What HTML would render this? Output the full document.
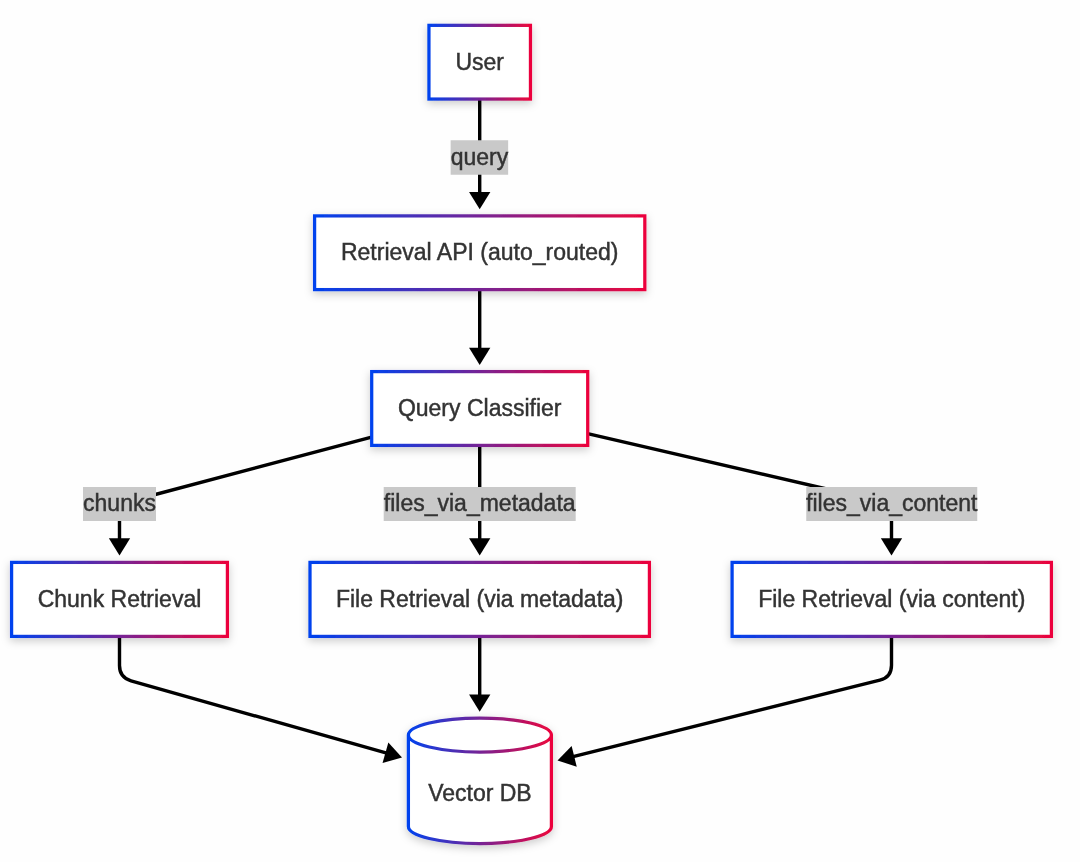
<!DOCTYPE html>
<html><head><meta charset="utf-8"><title>Retrieval flow</title>
<style>html,body{margin:0;padding:0;background:#fefefe;}svg{display:block;will-change:transform}text{font-family:"Liberation Sans",sans-serif;font-size:23px;fill:#333;stroke:#333;stroke-width:0.45px;text-anchor:middle}</style></head><body>
<svg width="1080" height="862" viewBox="0 0 1080 862">
<defs>
<filter id="sh" x="-30%" y="-40%" width="160%" height="190%"><feDropShadow dx="0" dy="3" stdDeviation="4" flood-color="#000" flood-opacity="0.2"/></filter>
<linearGradient id="g_user" gradientUnits="userSpaceOnUse" x1="428.95" y1="0" x2="530.45" y2="0"><stop offset="0" stop-color="#0042ee"/><stop offset="1" stop-color="#ec053c"/></linearGradient>
<linearGradient id="g_api" gradientUnits="userSpaceOnUse" x1="314.60" y1="0" x2="644.80" y2="0"><stop offset="0" stop-color="#0042ee"/><stop offset="1" stop-color="#ec053c"/></linearGradient>
<linearGradient id="g_qc" gradientUnits="userSpaceOnUse" x1="371.70" y1="0" x2="587.70" y2="0"><stop offset="0" stop-color="#0042ee"/><stop offset="1" stop-color="#ec053c"/></linearGradient>
<linearGradient id="g_chunk" gradientUnits="userSpaceOnUse" x1="11.60" y1="0" x2="227.40" y2="0"><stop offset="0" stop-color="#0042ee"/><stop offset="1" stop-color="#ec053c"/></linearGradient>
<linearGradient id="g_meta" gradientUnits="userSpaceOnUse" x1="310.00" y1="0" x2="649.40" y2="0"><stop offset="0" stop-color="#0042ee"/><stop offset="1" stop-color="#ec053c"/></linearGradient>
<linearGradient id="g_cont" gradientUnits="userSpaceOnUse" x1="732.10" y1="0" x2="1051.40" y2="0"><stop offset="0" stop-color="#0042ee"/><stop offset="1" stop-color="#ec053c"/></linearGradient>
<linearGradient id="g_db" gradientUnits="userSpaceOnUse" x1="408.40" y1="0" x2="551.40" y2="0"><stop offset="0" stop-color="#0042ee"/><stop offset="1" stop-color="#ec053c"/></linearGradient>
</defs>
<rect width="1080" height="862" fill="#fefefe"/>
<path d="M479.7,99 L479.7,195" fill="none" stroke="#000" stroke-width="3.40" stroke-linejoin="round"/>
<polygon points="479.70,209.25 469.05,192.05 490.35,192.05" fill="#000"/>
<path d="M479.7,290 L479.7,350" fill="none" stroke="#000" stroke-width="3.40" stroke-linejoin="round"/>
<polygon points="479.70,365.00 469.05,347.80 490.35,347.80" fill="#000"/>
<path d="M371.6,437.15 L119.5,504 L119.5,541" fill="none" stroke="#000" stroke-width="3.40" stroke-linejoin="round"/>
<polygon points="119.50,555.50 108.85,538.30 130.15,538.30" fill="#000"/>
<path d="M479.7,446 L479.7,541" fill="none" stroke="#000" stroke-width="3.40" stroke-linejoin="round"/>
<polygon points="479.70,555.50 469.05,538.30 490.35,538.30" fill="#000"/>
<path d="M587.6,433.55 L891.5,504 L891.5,541" fill="none" stroke="#000" stroke-width="3.40" stroke-linejoin="round"/>
<polygon points="891.50,555.50 880.85,538.30 902.15,538.30" fill="#000"/>
<path d="M119.50,636.00 L119.50,665.50 Q119.50,677.50 131.05,680.77 L388.53,753.69" fill="none" stroke="#000" stroke-width="3.40" stroke-linejoin="round"/>
<polygon points="402.00,757.50 382.55,763.06 388.35,742.57" fill="#000"/>
<path d="M479.7,636 L479.7,697" fill="none" stroke="#000" stroke-width="3.40" stroke-linejoin="round"/>
<polygon points="479.70,711.75 469.05,694.55 490.35,694.55" fill="#000"/>
<path d="M891.50,636.00 L891.50,665.30 Q891.50,677.30 879.86,680.20 L571.08,757.12" fill="none" stroke="#000" stroke-width="3.40" stroke-linejoin="round"/>
<polygon points="557.50,760.50 571.62,746.01 576.76,766.68" fill="#000"/>
<rect x="450.65" y="140.25" width="57.50" height="34.50" fill="#c9c9c9"/>
<text x="479.40" y="164.90">query</text>
<rect x="83.00" y="487.00" width="73.00" height="34.00" fill="#c9c9c9"/>
<text x="119.50" y="511.40">chunks</text>
<rect x="383.70" y="487.00" width="192.00" height="34.00" fill="#c9c9c9"/>
<text x="479.70" y="511.40">files_via_metadata</text>
<rect x="806.25" y="487.00" width="171.00" height="34.00" fill="#c9c9c9"/>
<text x="891.75" y="511.40">files_via_content</text>
<rect x="428.95" y="25.35" width="101.50" height="73.70" fill="#fff" stroke="url(#g_user)" stroke-width="3.25" filter="url(#sh)"/>
<text x="479.70" y="69.60">User</text>
<rect x="314.60" y="215.90" width="330.20" height="73.70" fill="#fff" stroke="url(#g_api)" stroke-width="3.25" filter="url(#sh)"/>
<text x="479.70" y="260.15">Retrieval API (auto_routed)</text>
<rect x="371.70" y="371.60" width="216.00" height="73.80" fill="#fff" stroke="url(#g_qc)" stroke-width="3.25" filter="url(#sh)"/>
<text x="479.70" y="415.90">Query Classifier</text>
<rect x="11.60" y="562.40" width="215.80" height="74.00" fill="#fff" stroke="url(#g_chunk)" stroke-width="3.25" filter="url(#sh)"/>
<text x="119.50" y="606.80">Chunk Retrieval</text>
<rect x="310.00" y="562.40" width="339.40" height="74.00" fill="#fff" stroke="url(#g_meta)" stroke-width="3.25" filter="url(#sh)"/>
<text x="479.70" y="606.80">File Retrieval (via metadata)</text>
<rect x="732.10" y="562.40" width="319.30" height="74.00" fill="#fff" stroke="url(#g_cont)" stroke-width="3.25" filter="url(#sh)"/>
<text x="891.75" y="606.80">File Retrieval (via content)</text>
<path d="M408.40,735.00 a71.50,17.00 0 0 0 143.00,0 a71.50,17.00 0 0 0 -143.00,0 l0,91.50 a71.50,17.00 0 0 0 143.00,0 l0,-91.50" fill="#fff" stroke="url(#g_db)" stroke-width="3.25" filter="url(#sh)"/>
<text x="479.90" y="800.70">Vector DB</text>
</svg></body></html>
